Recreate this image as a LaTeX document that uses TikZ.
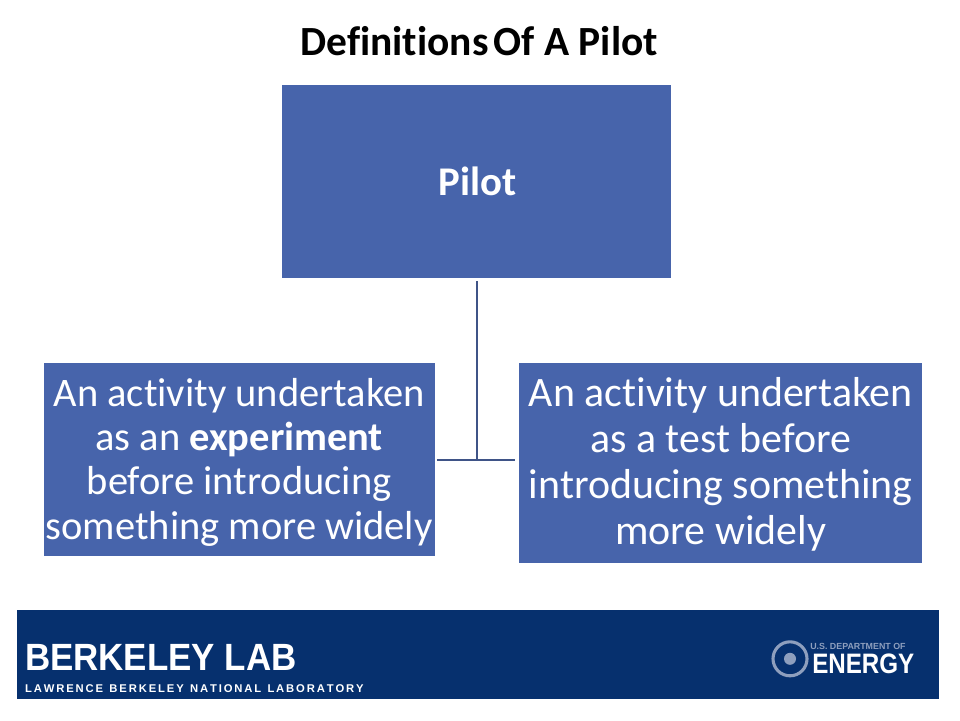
\documentclass[tikz,border=0pt]{standalone}
\usepackage{fontspec}
\setmainfont[Ligatures=NoCommon]{Carlito}
\newfontfamily\logofont{Liberation Sans}
\usetikzlibrary{positioning}
\definecolor{pilotblue}{HTML}{4764AB}
\definecolor{labblue}{HTML}{06306E}
\definecolor{linkblue}{HTML}{3F5487}
\definecolor{sealgray}{HTML}{8E9FBE}
\tikzset{
  boxfill/.style={fill=pilotblue,inner sep=0pt},
  boxtext/.style={text=white,align=center,inner sep=0pt},
  logotext/.style={text=white,inner sep=0pt,anchor=base west,transform shape},
  link/.style={draw=linkblue,line width=1.4pt}
}
\begin{document}
\begin{tikzpicture}
      \useasboundingbox (0,0) rectangle (24,18);
      \fill[white] (0,0) rectangle (24,18);

      % title
      \node[inner sep=0pt,font=\fontsize{29.5}{33}\selectfont\bfseries] (title) at (11.98,16.97) {Definitions\hspace{-0.1em} Of A Pilot};

      % boxes
      \node[boxfill,minimum width=9.72cm,minimum height=4.82cm] (pilot) at (11.92,13.47) {};
      \node[boxtext,font=\fontsize{29}{33}\selectfont\bfseries] (pilotlabel) at (11.93,13.47) {Pilot};

      \node[boxfill,minimum width=9.78cm,minimum height=4.82cm] (experiment) at (5.98,6.52) {};
      \node[boxtext,font=\fontsize{28.8}{31.6}\selectfont] (experimentlabel) at (5.98,6.445)
        {An activity undertaken\\as an \textbf{experiment}\\before introducing\\something more widely};

      \node[boxfill,minimum width=10.08cm,minimum height=5cm] (test) at (18.02,6.43) {};
      \node[boxtext,font=\fontsize{29.8}{32.8}\selectfont] (testlabel) at (18.02,6.39)
        {An activity undertaken\\as a test before\\introducing something\\more widely};

      % connector
      \coordinate (top) at (11.92,10.97);
      \coordinate (joint) at (11.92,6.5);
      \coordinate (leftend) at (10.92,6.5);
      \coordinate (rightend) at (12.88,6.5);
      \draw[link] (top) -- (joint);
      \draw[link] (leftend) -- (rightend);

      % banner
      \node[fill=labblue,minimum width=23.05cm,minimum height=2.22cm,inner sep=0pt] (banner) at (11.95,1.63) {};

      \node[logotext,xscale=.92,font=\logofont\bfseries\fontsize{27}{30}\selectfont] (lab) at (0.62,1.25) {BERKELEY LAB};
      \node[logotext,font=\logofont\bfseries\fontsize{8}{9}\selectfont] (national) at (0.62,0.7) {L\,A\,W\,R\,E\,N\,C\,E\ \ B\,E\,R\,K\,E\,L\,E\,Y\ \ N\,A\,T\,I\,O\,N\,A\,L\ \ L\,A\,B\,O\,R\,A\,T\,O\,R\,Y};

      \node[circle,draw=sealgray,line width=2.2pt,minimum size=0.85cm,inner sep=0pt] (seal) at (19.75,1.53) {};
      \node[circle,fill=sealgray,minimum size=0.3cm,inner sep=0pt] (sealcore) at (seal) {};
      \node[logotext,xscale=.86,font=\logofont\bfseries\fontsize{20}{22}\selectfont] (energy) at (20.3,1.175) {ENERGY};
      \node[logotext,text=sealgray,font=\logofont\bfseries\fontsize{6.3}{7}\selectfont] (doe) at (20.25,1.775) {U.S. DEPARTMENT OF};
\end{tikzpicture}
\end{document}
